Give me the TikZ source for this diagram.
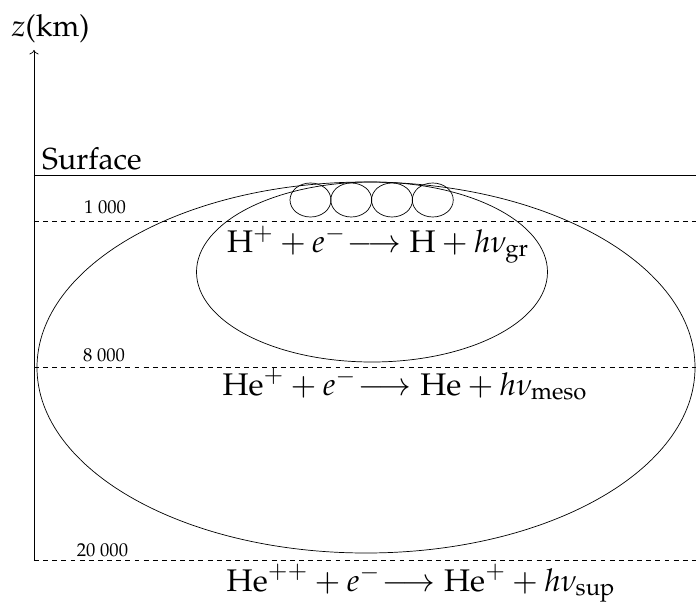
\documentclass[tikz,border=0pt]{standalone}
\usepackage[T1]{fontenc}
\usepackage{mathpazo}
\usepackage{amsmath}
\usetikzlibrary{arrows.meta}

\newcommand{\recomb}{\mskip-4mu\longrightarrow}

\begin{document}
\begin{tikzpicture}[
  level/.style={dash pattern=on 2.8pt off 2.4pt},
  altlbl/.style={font=\fontsize{10.6}{13}\selectfont, anchor=base},
  react/.style={font=\fontsize{17.8}{22}\selectfont, anchor=base},
]
  \useasboundingbox (-0.68,-0.86) rectangle (13.24,11.2);

  % axe z
  \coordinate (zbase) at (0,0);
  \coordinate (ztop) at (0,10.2);
  \draw[->] (zbase) -- (ztop);
  \node[font=\LARGE] (zlab) at (0.33,10.62) {$z$(km)};

  % surface
  \draw (0,7.7) -- (13.24,7.7);
  \node[font=\LARGE, anchor=base west] (surf) at (0.04,7.8) {Surface};

  % niveaux
  \draw[level] (0,6.78) -- (13.24,6.78);
  \draw[level] (0,3.86) -- (13.24,3.86);
  \draw[level] (0,0) -- (13.24,0);
  \node[altlbl] (z1) at (1.42,6.92) {1~000};
  \node[altlbl] (z8) at (1.4,3.98) {8~000};
  \node[altlbl] (z20) at (1.37,0.08) {20~000};

  % zones
  \draw (6.64,3.85) ellipse (6.58 and 3.71);
  \draw (6.76,5.76) ellipse (3.51 and 1.8);
  \foreach \i in {0,...,3}
    \draw ({5.53+0.815*\i},7.2) ellipse (0.41 and 0.34);

  % reactions
  \node[react] (rgr) at (6.88,6.16)
    {$\mathrm{H}^+ + e^- \recomb \mathrm{H} + h\nu_{\mathrm{gr}}$};
  \node[react] (rmeso) at (7.42,3.3)
    {$\mathrm{He}^+ + e^- \recomb \mathrm{He} + h\nu_{\mathrm{meso}}$};
  \node[react] (rsup) at (7.74,-0.62)
    {$\mathrm{He}^{++} + e^- \recomb \mathrm{He}^+ + h\nu_{\mathrm{sup}}$};
\end{tikzpicture}
\end{document}
